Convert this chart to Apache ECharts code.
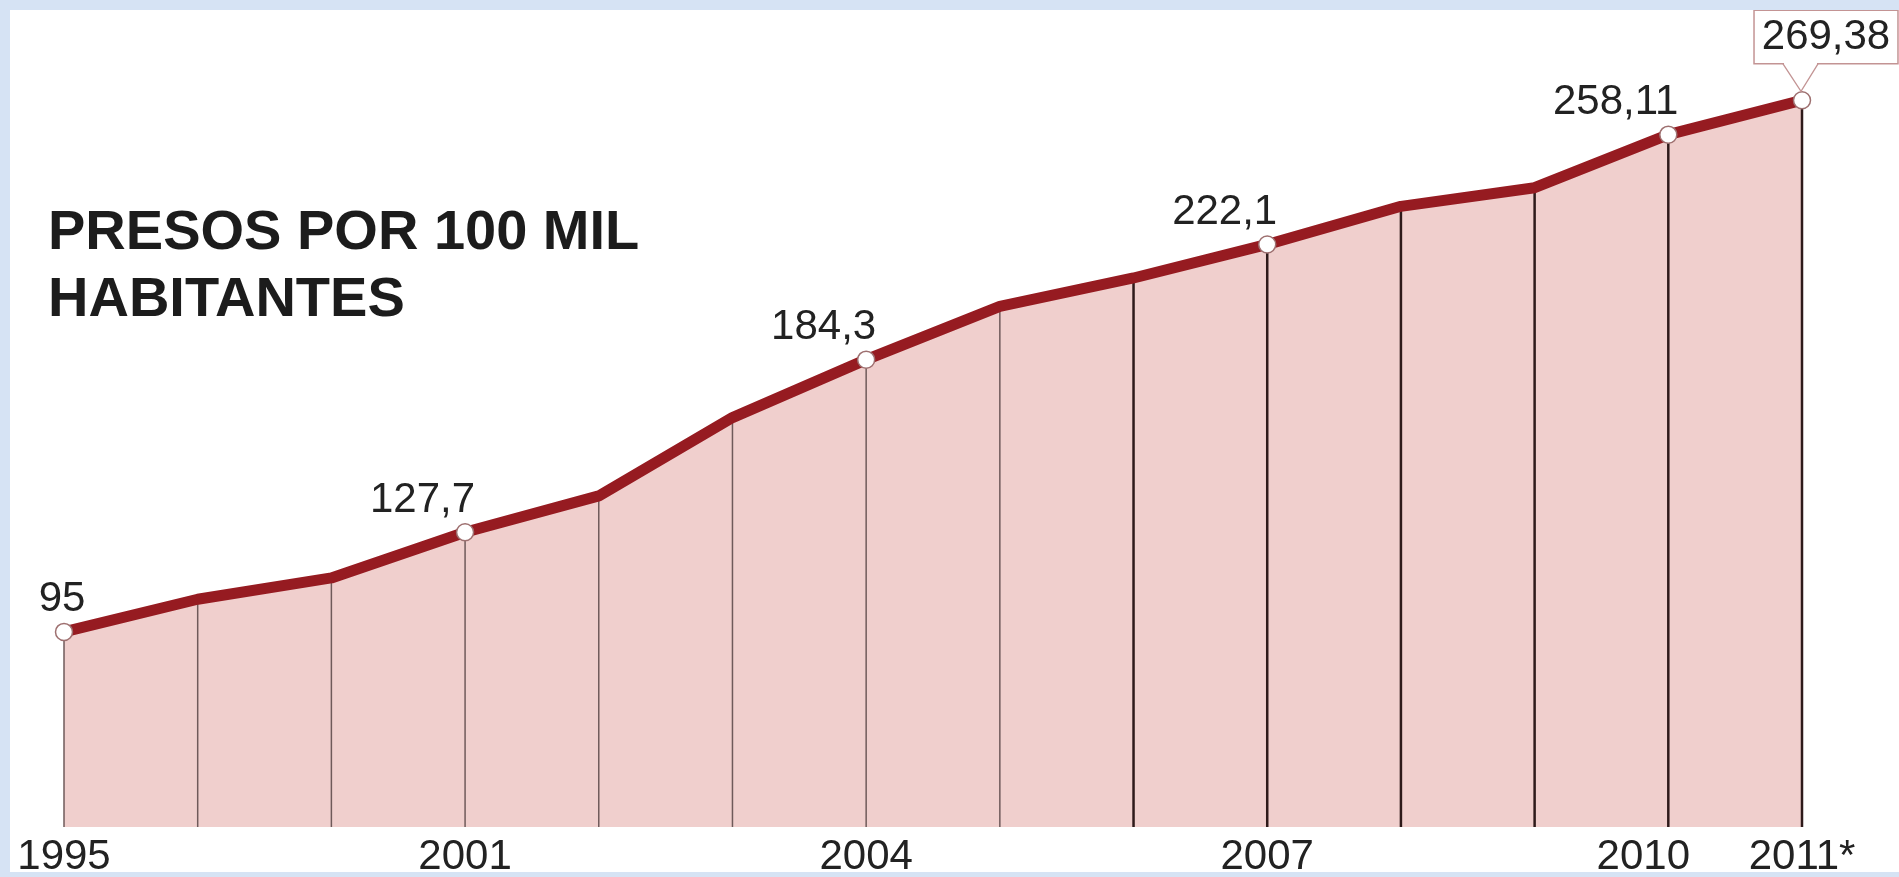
<!DOCTYPE html>
<html>
<head>
<meta charset="utf-8">
<script src="https://cdn.jsdelivr.net/npm/echarts@6/dist/echarts.min.js"></script>
<style>
  html, body { margin: 0; padding: 0; background: #ffffff; }
  #chart { width: 1899px; height: 877px; }
</style>
</head>
<body>
<div id="chart"></div>
<script>
// Year tick labels (blank ticks are unlabeled years)
const tickLabels = ['1995', '', '', '2001', '', '', '2004', '', '', '2007', '', '', '2010', '2011*'];
// Prisoners per 100 thousand inhabitants
const presos = [95, 105.7, 112.7, 127.7, 139.6, 165.3, 184.3, 201.8, 211.1, 222.1, 234.6, 240.7, 258.11, 269.38];
const titleLines = ['PRESOS POR 100 MIL', 'HABITANTES'];

const Y_MIN = 31, Y_MAX = 299;
const FONT = '"Liberation Sans", Arial, sans-serif';
const SYMBOL = 17;
const CALLOUT_GAP = 28;
const BORDER = '#c39494';
const lastIdx = presos.length - 1;
const fmt = v => String(v).replace('.', ',');

const lineData = presos.map((v, i) => {
  const labeled = tickLabels[i] !== '';
  const item = { value: v, symbol: labeled ? 'circle' : 'none' };
  if (!labeled) {
    item.label = { show: false };
  } else if (i === 0) {
    item.label = { align: 'center', offset: [-2, 0] };
  } else if (i === lastIdx) {
    item.label = {
      align: 'center', offset: [24, 0], distance: CALLOUT_GAP,
      backgroundColor: '#ffffff', borderColor: BORDER, borderWidth: 1.5,
      padding: [5, 7, 5, 7]
    };
  }
  return item;
});

const chart = echarts.init(document.getElementById('chart'), null, { renderer: 'canvas' });

chart.setOption({
  animation: false,
  backgroundColor: '#ffffff',
  title: {
    text: titleLines.join('\n'),
    left: 48, top: 200, padding: 0,
    textStyle: { fontFamily: FONT, fontSize: 56, fontWeight: 'bold', lineHeight: 67, color: '#1c1c1c' }
  },
  grid: { left: 64, right: 97, top: 10, bottom: 50, containLabel: false, outerBoundsMode: 'none' },
  xAxis: {
    type: 'category',
    data: tickLabels,
    boundaryGap: false,
    axisLine: { show: false },
    axisTick: { show: false },
    splitLine: { show: false },
    axisLabel: {
      interval: 0, margin: 9,
      fontFamily: FONT, fontSize: 42, lineHeight: 42, color: '#222222',
      formatter: v => (v === '2010' ? '{l|' + v + '}' : v),
      rich: { l: { fontFamily: FONT, fontSize: 42, lineHeight: 42, color: '#222222', padding: [0, 50, 0, 0] } }
    }
  },
  yAxis: { type: 'value', min: Y_MIN, max: Y_MAX, show: false },
  series: [
    {
      // shaded area under the curve
      type: 'line',
      z: 1,
      silent: true,
      data: presos,
      symbol: 'none',
      lineStyle: { width: 0, opacity: 0 },
      areaStyle: { color: '#f0cfcd', opacity: 1, origin: 'start' }
    },
    {
      // vertical drop lines from each year's point to the base
      type: 'custom',
      z: 2,
      silent: true,
      data: presos.map((v, i) => [i, v]),
      renderItem(params, api) {
        const i = api.value(0);
        const top = api.coord([i, api.value(1)]);
        const base = api.coord([i, Y_MIN]);
        const heavy = i >= 8;
        return {
          type: 'line',
          shape: { x1: top[0], y1: top[1], x2: base[0], y2: base[1] },
          style: { stroke: heavy ? '#2e1a1a' : '#6f5a5a', lineWidth: heavy ? 2.5 : 1.5 }
        };
      }
    },
    {
      type: 'line',
      z: 3,
      data: lineData,
      symbolSize: SYMBOL,
      showSymbol: true,
      itemStyle: { color: '#ffffff', borderColor: '#9e7070', borderWidth: 1.5 },
      lineStyle: { color: '#961b21', width: 11, join: 'round' },
      emphasis: { disabled: true },
      label: {
        show: true, position: 'top', distance: 2,
        align: 'right', offset: [10, 0],
        fontFamily: FONT, fontSize: 42, lineHeight: 42, color: '#222222',
        formatter: p => fmt(p.value)
      }
    }
  ]
});

// callout pointer for the last value and the light-blue frame
const [px, py] = chart.convertToPixel({ seriesIndex: 2 }, [lastIdx, presos[lastIdx]]);
const bb = py - SYMBOL / 2 - CALLOUT_GAP;
chart.setOption({
  graphic: [
    { type: 'line', z: 100, shape: { x1: px - 18, y1: bb, x2: px + 15, y2: bb }, style: { stroke: '#ffffff', lineWidth: 3 } },
    { type: 'polyline', z: 101, shape: { points: [[px - 19, bb], [px - 1, py - 9], [px + 16, bb]] }, style: { stroke: BORDER, lineWidth: 1.3, fill: null } },
    { type: 'rect', z: 200, shape: { x: 0, y: 0, width: 1899, height: 10 }, style: { fill: '#d6e3f4' } },
    { type: 'rect', z: 200, shape: { x: 0, y: 0, width: 10, height: 877 }, style: { fill: '#d6e3f4' } },
    { type: 'rect', z: 200, shape: { x: 0, y: 872, width: 1899, height: 5 }, style: { fill: '#d6e3f4' } }
  ]
});
</script>
</body>
</html>
